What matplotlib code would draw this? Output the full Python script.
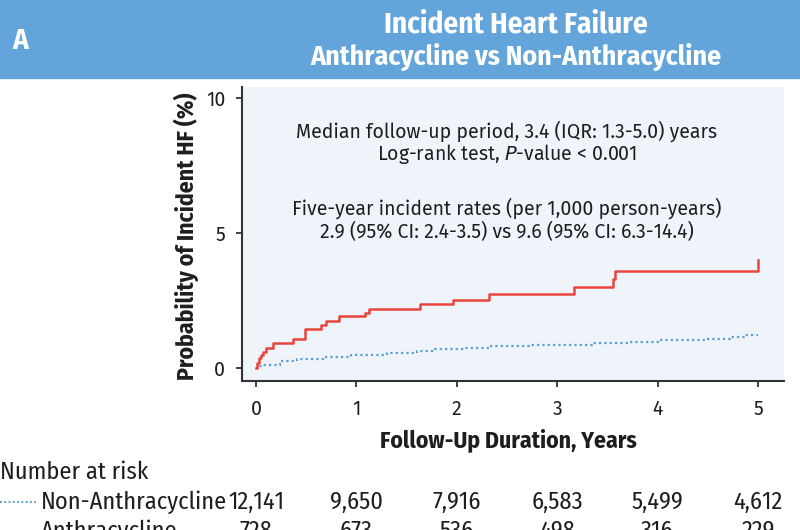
import matplotlib
matplotlib.use("Agg")
import matplotlib.pyplot as plt
from matplotlib.patches import Rectangle
from matplotlib.lines import Line2D

# Kaplan-Meier style cumulative incidence
anthra_t = [0.0, 0.01, 0.03, 0.05, 0.07, 0.10, 0.17, 0.37, 0.49, 0.65, 0.70, 0.83, 1.09, 1.13,
            1.63, 1.96, 2.32, 3.17, 3.56, 3.58, 5.0]
anthra_y = [0.0, 0.2, 0.37, 0.5, 0.6, 0.75, 0.93, 1.06, 1.45, 1.6, 1.75, 1.91, 2.05, 2.2,
            2.37, 2.53, 2.74, 3.0, 3.3, 3.6, 4.0]

non_t = [0.0, 0.03, 0.06, 0.24, 0.41, 0.67, 0.95, 1.3, 1.6, 1.78, 2.07, 2.32, 2.72, 3.35,
         3.71, 4.03, 4.46, 4.72, 4.87, 5.0]
non_y = [0.0, 0.06, 0.1, 0.25, 0.35, 0.41, 0.48, 0.57, 0.64, 0.70, 0.74, 0.80, 0.86, 0.91,
         0.96, 1.03, 1.09, 1.16, 1.24, 1.24]

risk_years = [0, 1, 2, 3, 4, 5]
risk_non = ["12,141", "9,650", "7,916", "6,583", "5,499", "4,612"]
risk_anthra = ["728", "673", "536", "498", "316", "229"]

RED = "#e8453c"
BLUE = "#5b9fd0"
HEAD = "#63a5da"
INK = "#1e1e1e"
NARROW = ["Fira Sans Condensed", "DejaVu Sans"]
BODY = ["Fira Sans", "DejaVu Sans"]

W, H = 800, 530
fig = plt.figure(figsize=(8, 5.3), dpi=100)


def fx(px):
    return px / W


def fy(py):
    return 1 - py / H


# header band
fig.patches.append(Rectangle((0, fy(78)), 1, 78 / H, transform=fig.transFigure,
                             color=HEAD, zorder=0))
fig.text(fx(12), fy(41), "A", color="white", fontsize=21, fontweight="bold",
         family=NARROW, va="center", ha="left")
fig.text(fx(516), fy(25), "Incident Heart Failure", color="white", fontsize=21,
         fontweight="bold", family=NARROW, va="center", ha="center")
fig.text(fx(516), fy(57), "Anthracycline vs Non-Anthracycline", color="white",
         fontsize=20, fontweight="bold", family=NARROW, va="center", ha="center")

# main axes
ax = fig.add_axes([fx(242), fy(381), (784 - 242) / W, (381 - 87) / H])
ax.set_facecolor("#eef4fa")
ax.set_xlim(-0.14, 5.26)
ax.set_ylim(-0.48, 10.4)

ax.step(non_t, non_y, where="post", color=BLUE, lw=1.6, linestyle=(0, (1, 1.4)))
ax.step(anthra_t, anthra_y, where="post", color=RED, lw=1.8)

for s in ["top", "right"]:
    ax.spines[s].set_visible(False)
for s in ["left", "bottom"]:
    ax.spines[s].set_color("#333333")
    ax.spines[s].set_linewidth(1.5)

ax.set_xticks(risk_years)
ax.set_yticks([0, 5, 10])
ax.tick_params(axis="both", length=4, width=1.3, color="#333333", labelsize=14,
               labelcolor=INK)
ax.tick_params(axis="x", pad=9)
ax.tick_params(axis="y", pad=8)
for lab in ax.get_xticklabels() + ax.get_yticklabels():
    lab.set_family(BODY)

fig.text(fx(186), fy(236), "Probability of Incident HF (%)", rotation=90,
         fontsize=17, fontweight="bold", family=NARROW, ha="center", va="center",
         color=INK)
fig.text(fx(508), fy(440), "Follow-Up Duration, Years", fontsize=17,
         fontweight="bold", family=NARROW, ha="center", va="center", color=INK)

ann = dict(ha="center", va="center", fontsize=14, family=BODY, color=INK)
ax.text(2.5, 8.78, "Median follow-up period, 3.4 (IQR: 1.3-5.0) years", **ann)
ax.text(2.5, 7.92, "Log-rank test, $\\it{P}$-value < 0.001", **ann)
ax.text(2.5, 5.9, "Five-year incident rates (per 1,000 person-years)", **ann)
ax.text(2.5, 5.04, "2.9 (95% CI: 2.4-3.5) vs 9.6 (95% CI: 6.3-14.4)", **ann)

# number at risk table
fig.text(fx(0), fy(472), "Number at risk", fontsize=17.5, family=NARROW,
         ha="left", va="center", color=INK)
fig.lines.append(Line2D([fx(0), fx(36)], [fy(502), fy(502)], transform=fig.transFigure,
                        color=BLUE, lw=1.4, linestyle=(0, (1, 1.2))))
fig.text(fx(41), fy(502), "Non-Anthracycline", fontsize=17.5, family=NARROW,
         ha="left", va="center", color=INK)
fig.text(fx(41), fy(531), "Anthracycline", fontsize=17.5, family=NARROW,
         ha="left", va="center", color=INK)

for yr, a, b in zip(risk_years, risk_non, risk_anthra):
    xp = ax.transData.transform((yr, 0))[0]
    xf = fig.transFigure.inverted().transform((xp, 0))[0]
    fig.text(xf, fy(502), a, fontsize=17.5, family=NARROW, ha="center", va="center",
             color=INK)
    fig.text(xf, fy(531), b, fontsize=17.5, family=NARROW, ha="center", va="center",
             color=INK)

fig.savefig("out.png", dpi=100)
